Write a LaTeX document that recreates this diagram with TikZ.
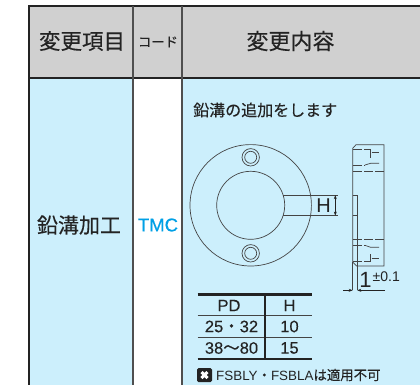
\documentclass[tikz,border=0pt]{standalone}
\usepackage{fontspec}
\setmainfont{Liberation Sans}
\newfontfamily\cjk[FakeBold=0.25]{Noto Sans CJK JP}
\newfontfamily\semi[FakeBold=0.2]{Liberation Sans}
\newfontfamily\med[FakeBold=0.5]{Liberation Sans}
\usetikzlibrary{arrows.meta}
\definecolor{hdr}{RGB}{208,208,208}
\definecolor{bluebg}{RGB}{204,239,252}
\definecolor{ink}{RGB}{35,35,35}
\definecolor{cyantxt}{RGB}{0,160,230}
\tikzset{
  frame/.style={draw=ink,line width=1.7pt},
  colline/.style={draw=ink!80,line width=1.1pt},
  thinl/.style={draw=ink!85,line width=0.7pt},
  txt/.style={text=ink,inner sep=0pt,anchor=center},
  dashl/.style={thinl,dash pattern=on 8.5pt off 2.5pt},
  dimar/.style={draw=ink,line width=0.6pt,{Stealth[length=4pt,width=3pt]}-{Stealth[length=4pt,width=3pt]}},
  dimtip/.style={draw=ink,line width=0.6pt,-{Stealth[length=4pt,width=3pt]}},
  tval/.style={txt,font=\semi\fontsize{16.5}{16.5}\selectfont}
}
\begin{document}
\begin{tikzpicture}[x=1pt,y=-1pt]
\useasboundingbox (0,0) rectangle (420,385);
\fill[hdr] (29,6) rectangle (420,78);
\fill[bluebg] (29,78) rectangle (420,385);
\fill[white] (133,78) rectangle (182,385);
\draw[frame] (29,385) -- (29,6) -- (420,6);
\draw[frame] (29,78) -- (420,78);
\draw[colline] (133,6) -- (133,385);
\draw[colline] (182,6) -- (182,385);
\node[txt] (h1) at (82,41) {\cjk\fontsize{21.5}{21.5}\selectfont 変更項目};
\node[txt] (h2) at (158,42) {\cjk\fontsize{13.3}{13.3}\selectfont コード};
\node[txt] (h3) at (290.5,41) {\cjk\fontsize{22}{22}\selectfont 変更内容};
\node[txt] (r1) at (79,225) {\cjk\fontsize{21}{21}\selectfont 鉛溝加工};
\node[txt,text=cyantxt] (r2) at (158,225) {\med\fontsize{18.5}{18.5}\selectfont TMC};
\node[txt,anchor=west] (d) at (193,110) {\cjk\fontsize{16}{16}\selectfont 鉛溝の追加をします};
% front view
\coordinate (c) at (250.7,205.3);
\draw[thinl] (c) circle (60.7);
\draw[thinl] (c) circle (34);
\draw[thinl] (283,195.2) -- (337.5,195.2) (283,215.6) -- (337.5,215.6);
\foreach \yy in {157.3,253.3}{
  \draw[thinl] (250.7,\yy) circle (8.7);
  \draw[thinl] (250.7,\yy) circle (6);
}
\node[txt] (H) at (323.7,206) {\fontsize{20}{20}\selectfont H};
\coordinate (ha) at (335.3,195.2); \coordinate (hb) at (335.3,215.6);
\draw[dimar] (ha) -- (hb);
% side view
\draw[thinl] (352.7,148.3) -- (356,144.7) -- (384,144.7) -- (384,266) -- (356.7,266) -- (352.7,262) -- cycle;
\draw[thinl] (352.7,195.3) -- (357.3,195.3) -- (357.3,290.3);
\draw[thinl] (352.7,215.7) -- (357.3,215.7);
\draw[thinl] (352.7,262) -- (352.7,290.3);
\draw[dashl] (353,171.7) -- (384,171.7);
\draw[dashl] (353,239) -- (384,239);
\draw[dashl] (353,149.3) -- (370.7,149.3);
\draw[thinl] (370.7,149.3) -- (370.7,158);
\draw[thinl] (371.5,152) -- (379,152);
\draw[dashl] (353,165) -- (365,165);
\draw[thinl] (365,165) -- (370.7,163.3) -- (379,163.3);
\draw[dashl] (353,245.7) -- (366,245.7);
\draw[thinl] (366,245.7) -- (370.7,247.3) -- (379,247.3);
\draw[dashl] (353,261.7) -- (370.7,261.7);
\draw[thinl] (370.7,261.7) -- (370.7,253.5);
\draw[thinl] (371.5,258.7) -- (379,258.7);
\coordinate (la) at (343.3,290.3); \coordinate (lb) at (385,290.3);
\coordinate (lc) at (352.7,290.3); \coordinate (ld) at (357.3,290.3);
\draw[dimtip] (la) -- (lc);
\draw[dimtip] (lb) -- (ld);
\node[txt] (one) at (365.5,280) {\fontsize{22}{22}\selectfont 1};
\node[txt,anchor=west] (tol) at (372.5,276.7) {\fontsize{14}{14}\selectfont ±0.1};
% table
\draw[draw=ink,line width=2.2pt] (197.5,294.5) -- (312,294.5);
\draw[draw=ink,line width=2.2pt] (197.5,359) -- (312,359);
\draw[draw=ink!85,line width=.9pt] (197.5,315.5) -- (312,315.5);
\draw[draw=ink!85,line width=.9pt] (197.5,337) -- (312,337);
\draw[draw=ink,line width=1.6pt] (265,294.5) -- (265,359);
\node[tval] (pd) at (229,305.5) {PD};
\node[tval] (hh) at (289.5,305.5) {H};
\node[tval] (a1) at (231.5,326.5) {25{\cjk ・}32};
\node[tval] (a2) at (289.5,326.5) {10};
\node[tval] (b1) at (231.5,348) {38{\cjk ～}80};
\node[tval] (b2) at (289.5,348) {15};
% note
\fill[ink,rounded corners=1.5pt] (197,368) rectangle (212,382);
\draw[white,line width=3pt] (201.5,372) -- (207.5,378) (207.5,372) -- (201.5,378);
\node[txt,anchor=west] (note) at (216,375) {\fontsize{13.4}{13.4}\selectfont FSBLY{\cjk ・}FSBLA{\cjk は適用不可}};
\end{tikzpicture}
\end{document}
